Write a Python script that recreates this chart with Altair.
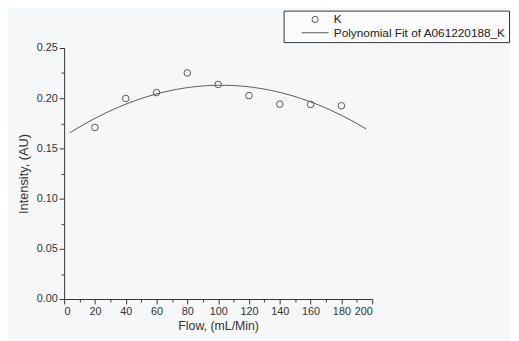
import altair as alt
import pandas as pd

flow = [20, 40, 60, 80, 100, 120, 140, 160, 180]
intensity = [0.1709, 0.1997, 0.2056, 0.2252, 0.2137, 0.2026, 0.1941, 0.1938, 0.1925]
series_names = ["K", "Polynomial Fit of A061220188_K"]
fit_extent = [4, 196]
x_major = [0, 20, 40, 60, 80, 100, 120, 140, 160, 180, 200]
x_minor = [10, 30, 50, 70, 90, 110, 130, 150, 170, 190]
y_major = [0.0, 0.05, 0.10, 0.15, 0.20, 0.25]
y_minor = [0.025, 0.075, 0.125, 0.175, 0.225]

df = pd.DataFrame({"flow": flow, "intensity": intensity, "series": series_names[0]})

FONT = "Liberation Sans"
INK = "#333333"
MARK = "#555555"

xscale = alt.Scale(domain=[0, 200], nice=False, zero=False)
yscale = alt.Scale(domain=[0, 0.25], nice=False, zero=False)

points = alt.Chart(df).mark_point(
    shape="circle", filled=False, size=45, stroke=MARK, strokeWidth=1, opacity=1
).encode(
    x=alt.X("flow:Q", scale=xscale,
            axis=alt.Axis(orient="bottom", values=x_major, title="Flow, (mL/Min)",
                          grid=False, tickSize=5, labelPadding=2,
                          domainColor=INK, tickColor=INK, labelColor=INK,
                          labelFont=FONT, labelFontSize=11,
                          titleFont=FONT, titleFontSize=12.5, titleFontWeight="normal",
                          titleColor=INK, titlePadding=3)),
    y=alt.Y("intensity:Q", scale=yscale,
            axis=alt.Axis(orient="left", values=y_major, format=".2f",
                          title="Intensity, (AU)", grid=False, tickSize=5, labelPadding=2,
                          domainColor=INK, tickColor=INK, labelColor=INK,
                          labelFont=FONT, labelFontSize=11,
                          titleFont=FONT, titleFontSize=13, titleFontWeight="normal",
                          titleColor=INK, titlePadding=6)),
    shape=alt.Shape("series:N",
                    scale=alt.Scale(domain=series_names, range=["circle", "M-4.3,0L4.3,0"]),
                    legend=alt.Legend(title=None, orient="none", legendX=223, legendY=-38,
                                      strokeColor=INK, fillColor="#fbfbfc", padding=3,
                                      symbolOffset=23, symbolSize=40, symbolStrokeWidth=1,
                                      symbolStrokeColor=MARK, symbolFillColor="transparent",
                                      labelFont=FONT, labelFontSize=12, labelColor="#222222",
                                      labelOffset=13, rowPadding=1.5, labelLimit=400)),
)

fit = alt.Chart(df).transform_regression(
    "flow", "intensity", method="poly", order=2, extent=fit_extent
).mark_line(color=MARK, strokeWidth=1).encode(
    x=alt.X("flow:Q", scale=xscale,
            axis=alt.Axis(orient="bottom", values=x_minor, labels=False, title=None,
                          domain=False, grid=False, tickSize=3, tickColor=INK)),
    y=alt.Y("intensity:Q", scale=yscale,
            axis=alt.Axis(orient="left", values=y_minor, labels=False, title=None,
                          domain=False, grid=False, tickSize=3, tickColor=INK)),
)

chart = alt.layer(fit, points).resolve_axis(x="independent", y="independent").properties(
    width=313, height=255,
    autosize=alt.AutoSizeParams(type="none"),
    padding={"left": 57, "top": 38, "right": 141, "bottom": 40},
    background="#f6f7f9",
).configure_view(stroke=None)

chart.save("out.html", embed_options={"renderer": "svg", "actions": False})
